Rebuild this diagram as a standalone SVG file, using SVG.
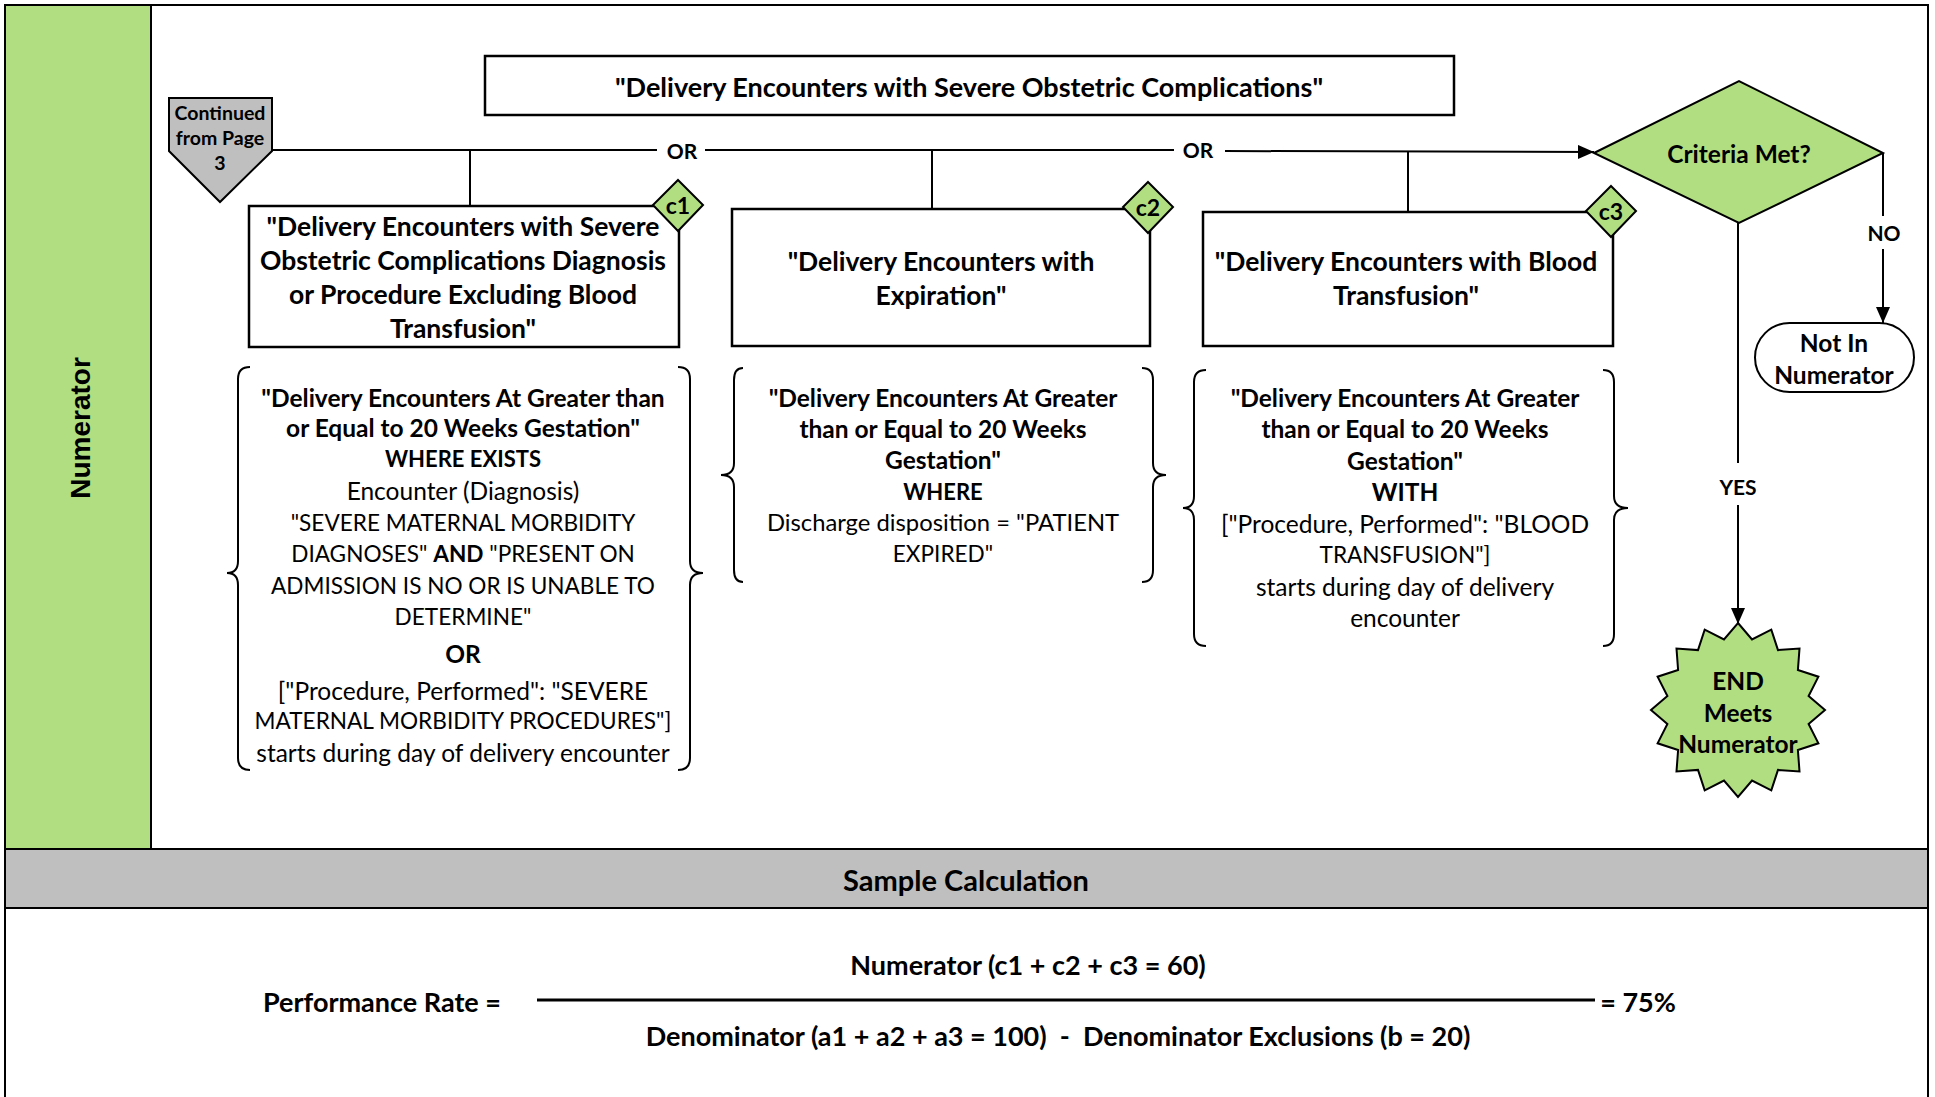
<svg xmlns="http://www.w3.org/2000/svg" width="1935" height="1097" viewBox="0 0 1935 1097">
<defs>
<style>
text{font-family:Lato,"Liberation Sans",sans-serif;fill:#000;text-anchor:middle;dominant-baseline:central}
.b{font-weight:bold}
.t{font-size:27px;font-weight:bold}
.bx{font-size:26.5px;font-weight:bold}
.br{font-size:24.5px}
.uc{font-size:22.6px}
.ub{font-size:22px;font-weight:bold}
.lb{font-size:24.5px;font-weight:bold}
.sm{font-size:21px;font-weight:bold}
.box{fill:#fff;stroke:#000;stroke-width:2.5}
.grn{fill:#b2de82;stroke:#000;stroke-width:2}
.ln{fill:none;stroke:#000;stroke-width:2}
.brace{fill:none;stroke:#000;stroke-width:2}
</style>
<marker id="ah2" viewBox="0 0 16 14" refX="16" refY="7" markerWidth="16" markerHeight="14" markerUnits="userSpaceOnUse" orient="auto">
<path d="M0,0 L16,7 L0,14 z" fill="#000"/>
</marker>
</defs>

<g id="frame">
<rect x="0" y="0" width="1935" height="1097" fill="#fff"/>
<rect x="5" y="5" width="146" height="844" fill="#b2de82"/>
<rect x="5" y="849" width="1923" height="59" fill="#bfbfbf"/>
<path class="ln" d="M5,1100 V5 H1928 V1100" stroke-width="2.5"/>
<line class="ln" x1="151" y1="5" x2="151" y2="849"/>
<line class="ln" x1="5" y1="849" x2="1928" y2="849" stroke-width="2.5"/>
<line class="ln" x1="5" y1="908" x2="1928" y2="908" stroke-width="2.5"/>
<text x="80" y="428" transform="rotate(-90 80 428)" style="font-family:'Liberation Sans',Arial,sans-serif;font-size:28px;font-weight:bold">Numerator</text>
<text x="966" y="879" class="b" style="font-size:29px">Sample Calculation</text>
</g>

<g id="connectors">
<polyline class="ln" points="272,150 657,150"/>
<text x="682" y="150" class="sm">OR</text>
<polyline class="ln" points="705,150 1174,150"/>
<text x="1198" y="149" class="sm">OR</text>
<polyline class="ln" points="1225,151 1594,152" marker-end="url(#ah2)"/>
<line class="ln" x1="470" y1="150" x2="470" y2="206"/>
<line class="ln" x1="932" y1="150" x2="932" y2="209"/>
<line class="ln" x1="1408" y1="151" x2="1408" y2="212"/>
<polyline class="ln" points="1883,153 1883,216"/>
<text x="1884" y="232" class="sm">NO</text>
<line class="ln" x1="1883" y1="249" x2="1883" y2="323" marker-end="url(#ah2)"/>
<line class="ln" x1="1738" y1="223" x2="1738" y2="463"/>
<text x="1738" y="486" class="sm">YES</text>
<line class="ln" x1="1738" y1="505" x2="1738" y2="624" marker-end="url(#ah2)"/>
</g>

<g id="continued">
<path d="M169,98 H272 V151 L220,202 L169,151 Z" fill="#bfbfbf" stroke="#000" stroke-width="2"/>
<text x="220" y="112" class="b" style="font-size:19.5px">Continued</text>
<text x="220" y="137" class="b" style="font-size:19.5px">from Page</text>
<text x="220" y="162" class="b" style="font-size:19.5px">3</text>
</g>

<g id="title">
<rect class="box" x="485" y="56" width="969" height="59"/>
<text x="969" y="86" class="t">"Delivery Encounters with Severe Obstetric Complications"</text>
</g>

<g id="c1box">
<rect class="box" x="249" y="206" width="430" height="141"/>
<text x="463" y="226" class="bx">"Delivery Encounters with Severe</text>
<text x="463" y="260" class="bx">Obstetric Complications Diagnosis</text>
<text x="463" y="294" class="bx">or Procedure Excluding Blood</text>
<text x="463" y="328" class="bx">Transfusion"</text>
<polygon class="grn" points="678,180 703,205 678,231 653,205"/>
<text x="678" y="205" class="b" style="font-size:23px">c1</text>
</g>

<g id="c2box">
<rect class="box" x="732" y="209" width="418" height="137"/>
<text x="941" y="261" class="bx">"Delivery Encounters with</text>
<text x="941" y="295" class="bx">Expiration"</text>
<polygon class="grn" points="1148,182 1173,207 1148,233 1123,207"/>
<text x="1148" y="207" class="b" style="font-size:23px">c2</text>
</g>

<g id="c3box">
<rect class="box" x="1203" y="212" width="410" height="134"/>
<text x="1406" y="261" class="bx">"Delivery Encounters with Blood</text>
<text x="1406" y="295" class="bx">Transfusion"</text>
<polygon class="grn" points="1611,186 1636,211 1611,237 1586,211"/>
<text x="1611" y="211" class="b" style="font-size:23px">c3</text>
</g>

<g id="c1detail">
<path class="brace" d="M250,367 Q238,367 238,379 L238,561 Q238,573 227,573 Q238,573 238,585 L238,758 Q238,770 250,770"/>
<path class="brace" d="M678,367 Q690,367 690,379 L690,561 Q690,573 703,573 Q690,573 690,585 L690,758 Q690,770 678,770"/>
<text x="463" y="397" class="br b">"Delivery Encounters At Greater than</text>
<text x="463" y="427" class="br b">or Equal to 20 Weeks Gestation"</text>
<text x="463" y="458" class="ub">WHERE EXISTS</text>
<text x="463" y="490" class="br">Encounter (Diagnosis)</text>
<text x="463" y="522" class="uc">"SEVERE MATERNAL MORBIDITY</text>
<text x="463" y="553" class="uc">DIAGNOSES" <tspan class="b">AND</tspan> "PRESENT ON</text>
<text x="463" y="585" class="uc">ADMISSION IS NO OR IS UNABLE TO</text>
<text x="463" y="616" class="uc">DETERMINE"</text>
<text x="463" y="653" class="br b">OR</text>
<text x="463" y="690" class="br">["Procedure, Performed": "SEVERE</text>
<text x="463" y="720" class="uc">MATERNAL MORBIDITY PROCEDURES"]</text>
<text x="463" y="752" class="br">starts during day of delivery encounter</text>
</g>

<g id="c2detail">
<path class="brace" d="M743,368 Q734,368 734,380 L734,463 Q734,475 721,475 Q734,475 734,487 L734,570 Q734,582 743,582"/>
<path class="brace" d="M1142,368 Q1153,368 1153,380 L1153,463 Q1153,475 1166,475 Q1153,475 1153,487 L1153,570 Q1153,582 1142,582"/>
<text x="943" y="397" class="br b">"Delivery Encounters At Greater</text>
<text x="943" y="428" class="br b">than or Equal to 20 Weeks</text>
<text x="943" y="459" class="br b">Gestation"</text>
<text x="943" y="491" class="ub">WHERE</text>
<text x="943" y="522" class="br" style="font-size:23.8px">Discharge disposition = "PATIENT</text>
<text x="943" y="553" class="uc">EXPIRED"</text>
</g>

<g id="c3detail">
<path class="brace" d="M1206,370 Q1194,370 1194,382 L1194,496 Q1194,508 1183,508 Q1194,508 1194,520 L1194,634 Q1194,646 1206,646"/>
<path class="brace" d="M1603,370 Q1614,370 1614,382 L1614,496 Q1614,508 1628,508 Q1614,508 1614,520 L1614,634 Q1614,646 1603,646"/>
<text x="1405" y="397" class="br b">"Delivery Encounters At Greater</text>
<text x="1405" y="428" class="br b">than or Equal to 20 Weeks</text>
<text x="1405" y="460" class="br b">Gestation"</text>
<text x="1405" y="491" class="br b">WITH</text>
<text x="1405" y="523" class="br">["Procedure, Performed": "BLOOD</text>
<text x="1405" y="554" class="uc">TRANSFUSION"]</text>
<text x="1405" y="586" class="br">starts during day of delivery</text>
<text x="1405" y="617" class="br">encounter</text>
</g>

<g id="decision">
<polygon class="grn" points="1594,153 1739,81 1883,153 1739,223"/>
<text x="1739" y="153" class="lb">Criteria Met?</text>
</g>

<g id="notin">
<rect x="1755" y="323" width="159" height="69" rx="34.5" ry="34.5" fill="#fff" stroke="#000" stroke-width="2"/>
<text x="1834" y="342" class="lb">Not In</text>
<text x="1834" y="374" class="lb">Numerator</text>
</g>

<g id="end">
<polygon class="grn" points="1738,623 1752,639.4 1771.3,629.6 1778,650.1 1799.5,648.5 1797.9,670 1818.4,676.7 1808.6,696 1825,710 1808.6,724 1818.4,743.3 1797.9,750 1799.5,771.5 1778,769.9 1771.3,790.4 1752,780.6 1738,797 1724,780.6 1704.7,790.4 1698,769.9 1676.5,771.5 1678.1,750 1657.6,743.3 1667.4,724 1651,710 1667.4,696 1657.6,676.7 1678.1,670 1676.5,648.5 1698,650.1 1704.7,629.6 1724,639.4"/>
<text x="1738" y="680" class="lb">END</text>
<text x="1738" y="712" class="lb">Meets</text>
<text x="1738" y="743" class="lb">Numerator</text>
</g>

<g id="calc">
<text x="382" y="1001" class="t">Performance Rate =</text>
<line x1="537" y1="1000" x2="1595" y2="1000" stroke="#000" stroke-width="3"/>
<text x="1638" y="1001" class="t">= 75%</text>
<text x="1028" y="964" class="t">Numerator (c1 + c2 + c3 = 60)</text>
<text x="1058" y="1035" class="t" style="white-space:pre">Denominator (a1 + a2 + a3 = 100)  -  Denominator Exclusions (b = 20)</text>
</g>
</svg>
